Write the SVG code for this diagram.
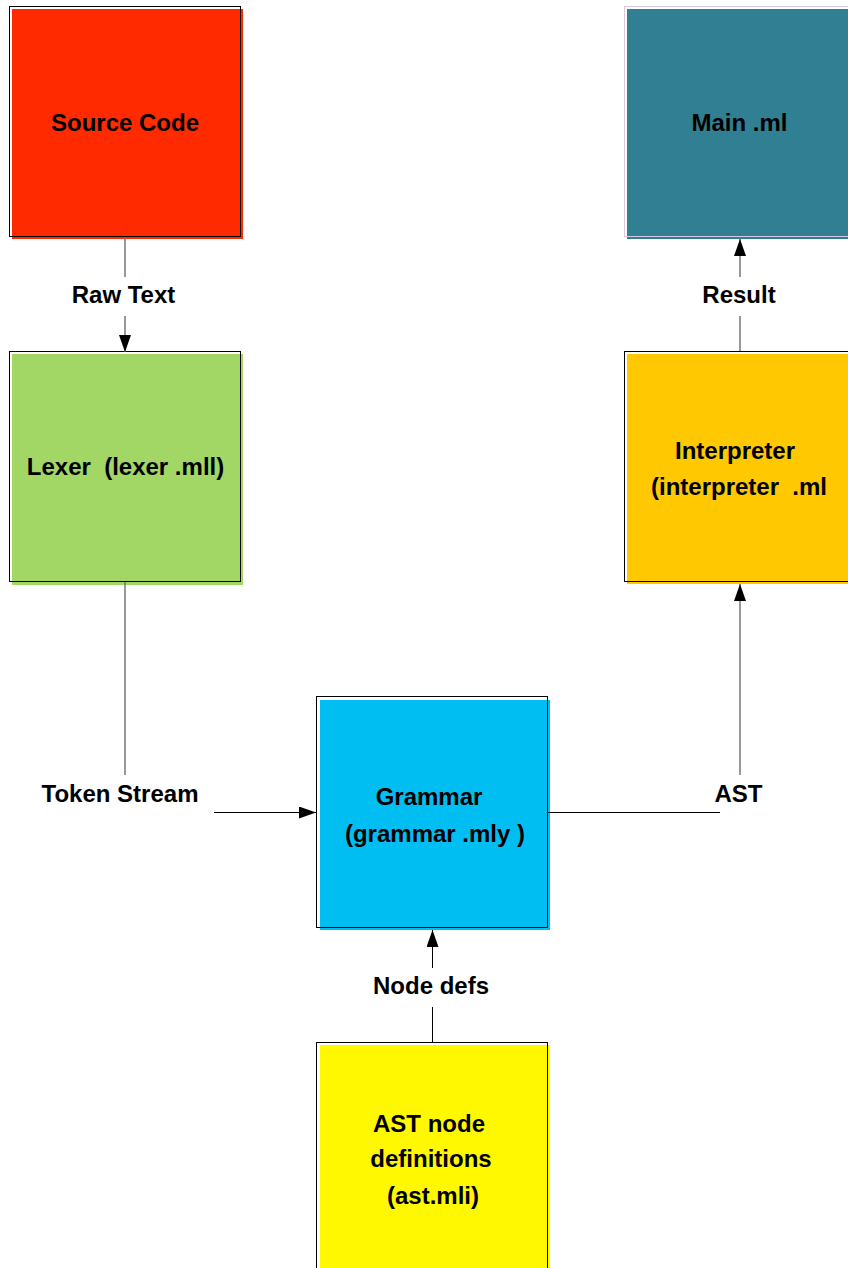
<svg xmlns="http://www.w3.org/2000/svg" width="848" height="1268" viewBox="0 0 848 1268">
  <style>
    .label { font-family: "Liberation Sans", Arial, sans-serif; font-weight: bold; font-size: 24px; fill: #000; text-anchor: middle; white-space: pre; }
    .frame { fill: none; stroke: #000; stroke-width: 1; }
    .frame-light { fill: none; stroke: #d8c8e2; stroke-width: 1; }
    .wire { fill: none; stroke: #000; stroke-width: 1; }
    .wire-soft { fill: none; stroke: #6e6e6e; stroke-width: 1.4; }
  </style>
  <defs>
    <marker id="arrow" viewBox="0 0 17 12" refX="17" refY="6" markerWidth="17" markerHeight="12" markerUnits="userSpaceOnUse" orient="auto">
      <path d="M0,0 L17,6 L0,12 z" fill="#000"/>
    </marker>
  </defs>

  <rect width="848" height="1268" fill="#fff"/>

  <!-- Source Code -->
  <g id="source-code">
    <rect x="12" y="9" width="231" height="230" fill="#ff2a00"/>
    <rect class="frame" x="9.5" y="6.5" width="231" height="230"/>
    <text class="label" x="125" y="131">Source Code</text>
  </g>

  <!-- Main .ml -->
  <g id="main-ml">
    <rect x="627" y="9" width="240" height="230" fill="#317f92"/>
    <rect class="frame-light" x="624.5" y="6.5" width="240" height="230"/>
    <text class="label" x="739.5" y="131">Main .ml</text>
  </g>

  <!-- Lexer -->
  <g id="lexer">
    <rect x="12" y="354" width="231" height="231" fill="#a2d766"/>
    <rect class="frame" x="9.5" y="351.5" width="231" height="230"/>
    <text class="label" x="125.5" y="475">Lexer  (lexer .mll)</text>
  </g>

  <!-- Interpreter -->
  <g id="interpreter">
    <rect x="627" y="354" width="240" height="230" fill="#ffc800"/>
    <rect class="frame" x="624.5" y="351.5" width="240" height="230"/>
    <text class="label" x="735" y="459">Interpreter</text>
    <text class="label" x="651" y="495" style="text-anchor:start">(interpreter  .ml</text>
  </g>

  <!-- Grammar -->
  <g id="grammar">
    <rect x="320" y="700" width="230" height="230" fill="#00bef2"/>
    <rect class="frame" x="316.5" y="696.5" width="231" height="231"/>
    <text class="label" x="429" y="805">Grammar</text>
    <text class="label" x="435" y="842">(grammar .mly )</text>
  </g>

  <!-- AST node definitions -->
  <g id="ast-defs">
    <rect x="320" y="1045" width="230" height="240" fill="#fff800"/>
    <rect class="frame" x="316.5" y="1042.5" width="231" height="240"/>
    <text class="label" x="429" y="1132">AST node</text>
    <text class="label" x="431" y="1167">definitions</text>
    <text class="label" x="433" y="1204">(ast.mli)</text>
  </g>

  <!-- Connectors -->
  <g id="connectors">
    <!-- Source Code to Lexer -->
    <line class="wire-soft" x1="125" y1="237" x2="125" y2="277"/>
    <line class="wire-soft" x1="125" y1="316" x2="125" y2="352" marker-end="url(#arrow)"/>
    <text class="label" x="123.5" y="303">Raw Text</text>

    <!-- Lexer to Grammar -->
    <line class="wire-soft" x1="125" y1="582" x2="125" y2="775"/>
    <line class="wire" x1="214" y1="812.5" x2="316" y2="812.5" marker-end="url(#arrow)"/>
    <text class="label" x="120" y="802">Token Stream</text>

    <!-- Grammar to Interpreter -->
    <line class="wire" x1="548" y1="812.5" x2="720" y2="812.5"/>
    <line class="wire-soft" x1="740" y1="775" x2="740" y2="584" marker-end="url(#arrow)"/>
    <text class="label" x="738.5" y="802">AST</text>

    <!-- Interpreter to Main -->
    <line class="wire-soft" x1="740" y1="351" x2="740" y2="316"/>
    <line class="wire-soft" x1="740" y1="277" x2="740" y2="239" marker-end="url(#arrow)"/>
    <text class="label" x="739" y="303">Result</text>

    <!-- AST definitions to Grammar -->
    <line class="wire" x1="432.5" y1="1042" x2="432.5" y2="1007"/>
    <line class="wire" x1="432.5" y1="968" x2="432.5" y2="930" marker-end="url(#arrow)"/>
    <text class="label" x="431" y="994">Node defs</text>
  </g>
</svg>
